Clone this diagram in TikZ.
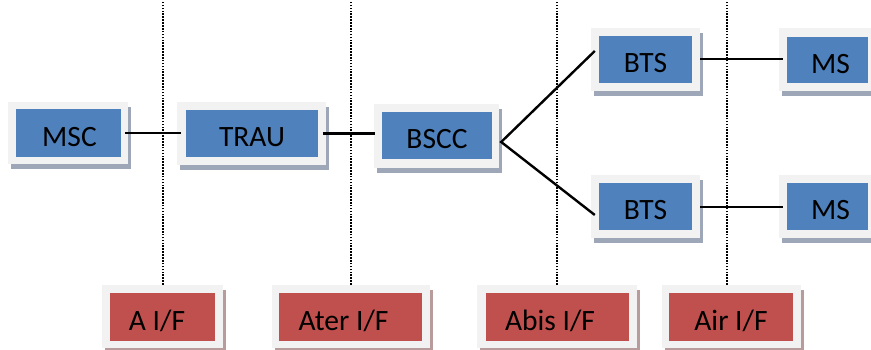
\documentclass[tikz,border=0pt]{standalone}
\usepackage{fontspec}
\setmainfont{Carlito}
\usetikzlibrary{shadows,calc}
\definecolor{boxblue}{HTML}{4F81BD}
\definecolor{boxred}{HTML}{C0504D}
\definecolor{frame}{HTML}{F2F2F2}
\definecolor{shblue}{HTML}{9DA7B8}
\definecolor{shred}{HTML}{B89C9C}
\tikzset{
  frameb/.style={fill=frame, draw=none, inner sep=0pt,
    general shadow={fill=shblue, shadow xshift=3pt, shadow yshift=-5pt}},
  framer/.style={fill=frame, draw=none, inner sep=0pt,
    general shadow={fill=shred, shadow xshift=3pt, shadow yshift=-5pt}},
  innerb/.style={fill=boxblue, draw=none, inner sep=0pt, font=\fontsize{29.5}{32}\selectfont,
    text height=27pt, text depth=0pt},
  innerr/.style={fill=boxred, draw=none, inner sep=0pt, font=\fontsize{29.5}{32}\selectfont,
    text height=27pt, text depth=0pt},
  conn/.style={line width=2.4pt, black},
  sep/.style={line width=2pt, dash pattern=on 1.6pt off 1.3pt, black},
}
\begin{document}
\begin{tikzpicture}[x=1pt,y=1pt]
\useasboundingbox (0,0) rectangle (871,350);
% blue boxes
\node[frameb, minimum width=120pt, minimum height=62pt] (msco) at (68,217) {};
\node[innerb, minimum width=105pt, minimum height=48pt] (msc) at (68.5,217) {\kern2pt MSC};
\node[frameb, minimum width=149pt, minimum height=63pt] (trauo) at (251.5,216.5) {};
\node[innerb, minimum width=132pt, minimum height=47pt] (trau) at (252,216.5) {TRAU};
\node[frameb, minimum width=125pt, minimum height=64pt] (bscco) at (436.5,214) {};
\node[innerb, minimum width=110pt, minimum height=47pt] (bscc) at (437,214.5) {BSCC};
\node[frameb, minimum width=109pt, minimum height=63pt] (btsao) at (645.5,290.5) {};
\node[innerb, minimum width=93pt, minimum height=47pt] (btsa) at (645.5,290.5) {BTS};
\node[frameb, minimum width=109pt, minimum height=63pt] (btsbo) at (645.5,143.5) {};
\node[innerb, minimum width=93pt, minimum height=47pt] (btsb) at (645.5,143.5) {BTS};
\node[frameb, minimum width=96pt, minimum height=63pt] (msao) at (827,290.5) {};
\node[innerb, minimum width=81pt, minimum height=46pt] (msa) at (827.5,290) {\kern6pt MS};
\node[frameb, minimum width=96pt, minimum height=63pt] (msbo) at (827,143.5) {};
\node[innerb, minimum width=81pt, minimum height=47pt] (msb) at (827.5,143.5) {\kern6pt MS};
% red boxes
\node[framer, minimum width=121pt, minimum height=63pt] (aifo) at (162.5,33.5) {};
\node[innerr, minimum width=105pt, minimum height=48pt] (aif) at (162.5,33) {A I/F\kern11pt};
\node[framer, minimum width=158pt, minimum height=63pt] (atero) at (351,33.5) {};
\node[innerr, minimum width=143pt, minimum height=48pt] (ater) at (350.5,33) {Ater I/F\kern14pt};
\node[framer, minimum width=160pt, minimum height=63pt] (abiso) at (557,33.5) {};
\node[innerr, minimum width=143pt, minimum height=48pt] (abis) at (557.5,33) {Abis I/F\kern15pt};
\node[framer, minimum width=139pt, minimum height=63pt] (airo) at (731.5,33.5) {};
\node[innerr, minimum width=124pt, minimum height=48pt] (air) at (731,33) {Air I/F};
% interface separators
\draw[sep] (aifo.north) -- ++(0,284);
\draw[sep] (atero.north) -- ++(0,284);
\draw[sep] (abiso.north) -- ++(0,284);
\draw[sep] ($(airo.north)+(-4.5,0)$) -- ++(0,284);
% connectors
\draw[conn] ($(msco.east)+(-3,0)$) -- ($(msco.east -| trauo.west)+(4,0)$);
\draw[conn] ($(trauo.east)+(-3,0)$) -- ($(trauo.east -| bscco.west)+(1,0)$);
\coordinate (fork) at ($(bscco.east)+(2,-6)$);
\draw[conn] ($(btsao.west)+(4,8.5)$) -- (fork) -- ($(btsbo.west)+(4,-8.5)$);
\draw[conn] ($(btsao.east)+(0,0.5)$) -- ($(btsao.east -| msao.west)+(4,0.5)$);
\draw[conn] ($(btsbo.east)+(0,-0.5)$) -- ($(btsbo.east -| msbo.west)+(4,-0.5)$);
\end{tikzpicture}
\end{document}
